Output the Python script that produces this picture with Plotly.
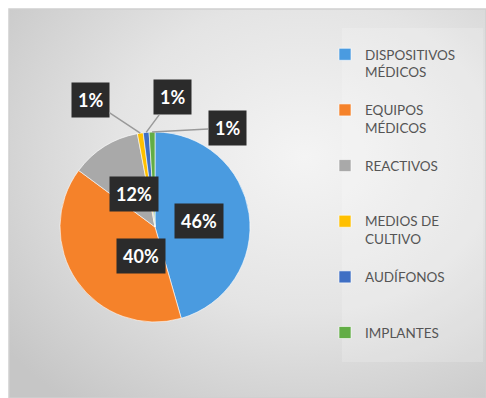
import base64
import math
import plotly.graph_objects as go

# ---------------- data ----------------
categories = ["DISPOSITIVOS MÉDICOS", "EQUIPOS MÉDICOS", "REACTIVOS",
              "MEDIOS DE CULTIVO", "AUDÍFONOS", "IMPLANTES"]
legend_labels = ["DISPOSITIVOS<br>MÉDICOS<br> ", "EQUIPOS<br>MÉDICOS<br> ", "REACTIVOS<br> <br> ",
                 "MEDIOS DE<br>CULTIVO<br> ", "AUDÍFONOS<br> <br> ", "IMPLANTES"]
values = [46, 40, 12, 1, 1, 1]
colors = ["#4A9BE0", "#F5822A", "#A9A9A9", "#FFC000", "#3F6FC4", "#62AD45"]

# ---------------- style / layout ----------------
W, H = 486, 398
CX, CY, R = 155, 227, 95           # pie centre / radius in pixels
inside = {0: (0.47, 0), 1: (0.51, -2), 2: (0.60, -22)}   # radial fraction, angle nudge
outside = {3: (-50, -33), 4: (26, -35), 5: (75, -4)}       # label offset (px)

def px2paper(x, y):
    return x / W, 1 - y / H

# background gradient as svg image
svg = f'''<svg xmlns="http://www.w3.org/2000/svg" width="{W}" height="{H}">
<defs><radialGradient id="g" cx="0.62" cy="0.38" r="0.8">
<stop offset="0" stop-color="#f4f4f4"/><stop offset="0.5" stop-color="#e4e4e4"/>
<stop offset="1" stop-color="#c6c6c6"/></radialGradient></defs>
<rect width="{W}" height="{H}" fill="#ffffff"/>
<rect x="9" y="9" width="{W-9}" height="{H-9}" fill="url(#g)" stroke="#cfcfcf" stroke-width="1.5"/>
<rect x="342" y="28" width="141" height="334" fill="#ffffff" fill-opacity="0.18"/>
</svg>'''
src = "data:image/svg+xml;base64," + base64.b64encode(svg.encode()).decode()

x0, y1 = px2paper(CX - R, CY - R)
x1, y0 = px2paper(CX + R, CY + R)

fig = go.Figure()
fig.add_trace(go.Pie(
    labels=legend_labels, values=values, sort=False, direction="clockwise",
    rotation=0, textinfo="none", hoverinfo="label+percent",
    marker=dict(colors=colors, line=dict(color="rgba(255,255,255,0.6)", width=1)),
    domain=dict(x=[x0, x1], y=[y0, y1]),
))

total = sum(values)
annotations = []
cum = 0
for i, v in enumerate(values):
    mid = (cum + v / 2) / total * 360
    cum += v
    txt = f"<b>{v}%</b>"
    common = dict(xref="paper", yref="paper", text=txt,
                  font=dict(family="Lato", size=18, color="white"),
                  bgcolor="#2b2b2b", borderpad=6)
    if i in inside:
        frac, nudge = inside[i]
        a = math.radians(mid + nudge)
        px = CX + frac * R * math.sin(a)
        py = CY - frac * R * math.cos(a)
        x, y = px2paper(px, py)
        annotations.append(dict(x=x, y=y, showarrow=False, **common))
    else:
        a = math.radians(mid)
        px = CX + R * math.sin(a)
        py = CY - R * math.cos(a)
        x, y = px2paper(px, py)
        ax, ay = outside[i]
        annotations.append(dict(x=x, y=y, showarrow=True, arrowhead=0, ax=ax, ay=ay,
                                arrowcolor="#9a9a9a", arrowwidth=1.5, **common))

fig.update_layout(
    width=W, height=H, margin=dict(l=0, r=0, t=0, b=0),
    paper_bgcolor="white", plot_bgcolor="rgba(0,0,0,0)",
    images=[dict(source=src, xref="paper", yref="paper", x=0, y=1, sizex=1, sizey=1,
                 sizing="stretch", layer="below")],
    annotations=annotations,
    showlegend=True,
    legend=dict(x=325 / W, y=1 - 39 / H, xanchor="left", yanchor="top",
                font=dict(family="Lato", size=13.5, color="#555555"),
                bgcolor="rgba(0,0,0,0)", valign="top",
                traceorder="normal"),
)
fig.write_html("out.html")
